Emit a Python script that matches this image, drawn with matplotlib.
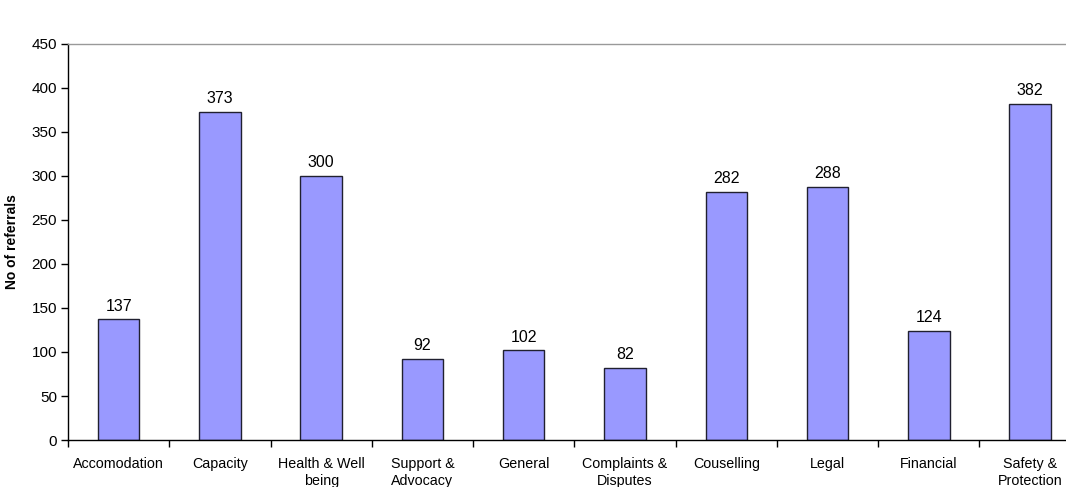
import numpy as np
import matplotlib
matplotlib.use("Agg")
import matplotlib.pyplot as plt

plt.rcParams['font.family'] = ['Liberation Sans', 'DejaVu Sans']

# referral categories and counts
categories = ["Accomodation", "Capacity", "Health & Well\nbeing", "Support &\nAdvocacy",
              "General", "Complaints &\nDisputes", "Couselling", "Legal", "Financial",
              "Safety &\nProtection"]
referrals = [137, 373, 300, 92, 102, 82, 282, 288, 124, 382]

fig = plt.figure(figsize=(10.66, 4.87), dpi=100)
# plot area runs a little past the right edge of the figure
ax = fig.add_axes([0.0638, 0.0965, 0.950, 0.8132])

x = np.arange(len(categories))
bars = ax.bar(x, referrals, width=0.41, color="#9999FF", edgecolor="#202030", linewidth=1.0)

for xi, v in zip(x, referrals):
    ax.annotate(str(v), (xi, v), xytext=(0, 4), textcoords="offset points",
                ha="center", va="bottom", fontsize=11.5)

ax.set_xlim(-0.5, len(categories) - 0.5)
ax.set_ylim(0, 450)
ax.set_yticks(np.arange(0, 451, 50))

# labels at centres, tick marks at category boundaries
ax.set_xticks(x)
ax.set_xticklabels(categories, fontsize=10.3, linespacing=1.3)
ax.set_xticks(np.arange(-0.5, len(categories), 1.0), minor=True)
ax.tick_params(axis="x", which="major", length=0, pad=12)
ax.tick_params(axis="x", which="minor", length=5, width=1, direction="out")
ax.tick_params(axis="y", length=5, width=1, direction="out", labelsize=11, pad=3)

ax.set_ylabel("No of referrals", fontsize=10, fontweight="bold", labelpad=9)

ax.spines["right"].set_visible(False)
ax.spines["top"].set_color("#999999")
ax.spines["top"].set_linewidth(1.0)
ax.spines["left"].set_linewidth(1.0)
ax.spines["bottom"].set_linewidth(1.0)

fig.savefig("out.png", dpi=100)
